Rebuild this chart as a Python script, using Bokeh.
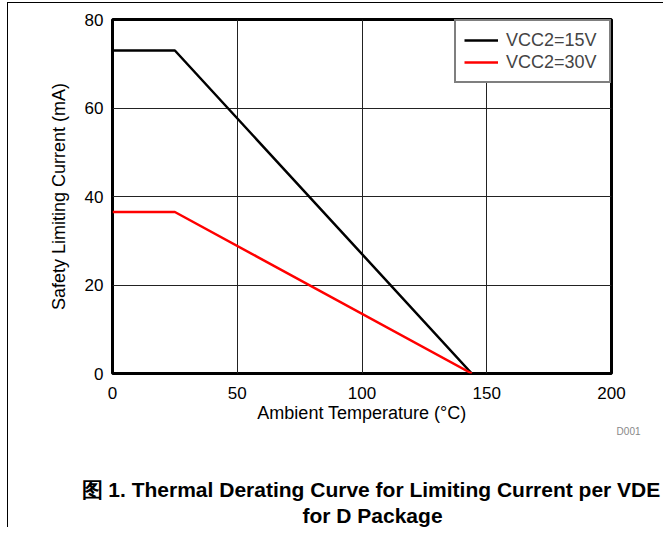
from bokeh.plotting import figure
from bokeh.models import Range1d, Title, Legend, LegendItem, FixedTicker, InlineStyleSheet
from bokeh.embed import file_html
from bokeh.resources import INLINE

# Data
temp = [0, 25, 144]
vcc15 = [73, 73, 0]
vcc30 = [36.5, 36.5, 0]
x_ticks = [0, 50, 100, 150, 200]
y_ticks = [0, 20, 40, 60, 80]
series_names = ["VCC2=15V", "VCC2=30V"]
caption1 = "图 1. Thermal Derating Curve for Limiting Current per VDE"
caption2 = "for D Package"

FONT = "Liberation Sans"

p = figure(width=663, height=527, output_backend="svg", toolbar_location=None,
           x_range=Range1d(0, 200), y_range=Range1d(0, 80),
           min_border_left=112, min_border_right=52, min_border_top=19, min_border_bottom=154)
p.stylesheets = [InlineStyleSheet(css="""
:host { position: relative; }
:host::after { content: ""; position: absolute; left: 7px; top: 2px; right: 0; bottom: 0;
  border-left: 1.5px solid black; border-top: 1.5px solid black; pointer-events: none; z-index: 100; }
""")]
p.background_fill_color = "white"
p.border_fill_color = "white"
p.outline_line_color = "black"
p.outline_line_width = 3

for ax in (p.xaxis, p.yaxis):
    ax.axis_line_color = None
    ax.major_tick_line_color = None
    ax.minor_tick_line_color = None
    ax.major_label_text_font = FONT
    ax.major_label_text_font_size = "17px"
    ax.major_label_text_color = "black"
    ax.axis_label_text_font = FONT
    ax.axis_label_text_font_size = "18px"
    ax.axis_label_text_font_style = "normal"
    ax.axis_label_text_color = "black"

p.xaxis.ticker = FixedTicker(ticks=x_ticks)
p.yaxis.ticker = FixedTicker(ticks=y_ticks)
p.xaxis.axis_label = "Ambient Temperature (°C)"
p.yaxis.axis_label = "Safety Limiting Current (mA)"
p.xaxis.major_label_standoff = 7
p.yaxis.major_label_standoff = 3
p.xaxis.axis_label_standoff = 1
p.yaxis.axis_label_standoff = 13

p.xgrid.grid_line_color = "#222222"
p.ygrid.grid_line_color = "#222222"
p.xgrid.grid_line_width = 1
p.ygrid.grid_line_width = 1

r1 = p.line(temp, vcc15, line_color="black", line_width=2.5)
r2 = p.line(temp, vcc30, line_color="#ff0000", line_width=2.5)

legend = Legend(items=[LegendItem(label=series_names[0], renderers=[r1]),
                       LegendItem(label=series_names[1], renderers=[r2])],
                location="top_right", margin=0, padding=8, spacing=0,
                glyph_width=34, glyph_height=22, label_height=22, label_width=95,
                label_standoff=8, border_line_color="black", border_line_width=2,
                label_text_font=FONT, label_text_font_size="18px",
                background_fill_alpha=1.0)
p.add_layout(legend)

p.add_layout(Title(text="D001", align="right", offset=-29, standoff=0, vertical_align="top",
                   text_font=FONT, text_font_size="10px", text_font_style="normal",
                   text_color="#888888"), "below")
p.add_layout(Title(text=" ", align="left", standoff=23, text_font=FONT, text_font_size="10px"),
             "below")
p.add_layout(Title(text=caption1, align="left", offset=-31, standoff=2,
                   text_font=FONT, text_font_size="21px", text_font_style="bold",
                   text_color="black"), "below")
p.add_layout(Title(text=caption2, align="left", offset=190, standoff=0,
                   text_font=FONT, text_font_size="21px", text_font_style="bold",
                   text_color="black"), "below")

open("out.html", "w").write(file_html(p, INLINE))
